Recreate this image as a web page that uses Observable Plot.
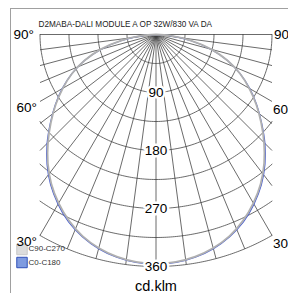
<!DOCTYPE html>
<html>
<head>
<meta charset="utf-8">
<script src="https://cdn.jsdelivr.net/npm/d3@7"></script>
<script src="https://cdn.jsdelivr.net/npm/@observablehq/plot@0.6"></script>
<style>
  html, body { margin: 0; padding: 0; background: #fff; }
  #chart svg { display: block; }
</style>
</head>
<body>
<div id="chart"></div>
<script>
// ---- data ----
const title = "D2MABA-DALI MODULE A OP 32W/830 VA DA";
const unitLabel = "cd.klm";
const gammaAngles = [0,5,10,15,20,25,30,35,40,45,50,55,60,65,70,75,80,85,90];
const c90c270 = [355,354,350,343,333,319,302,283,261,237,213,190,167,144,118,89,55,22,0];
const c0c180  = [356,355,351,344,334,321,304,285,263,239,214,191,168,144,118,88,54,21,0];
const seriesNames = ["C90-C270", "C0-C180"];
const ringValues = [45,90,135,180,225,270,315,360];
const ringLabels = [90,180,270,360];
const angleLabels = [90,60,30];
const spokeStep = 7.5;
const rMax = 360;

// ---- geometry helpers ----
const W = 288, H = 293, ML = 10, MT = 8;
const K = 232 / rMax;          // px per cd/klm
const CX = 155.5, CY = 34;     // pole position in px
const halfW = rMax * Math.sin(Math.PI / 6); // clipping half-width (data units)
const rad = d => d * Math.PI / 180;
const xDomain = [(ML - CX) / K, (W - CX) / K];
const yDomain = [(CY - H) / K, (CY - MT) / K];

// spokes
const spokes = [];
for (let a = -90; a <= 90 + 1e-9; a += spokeStep) {
  const s = Math.abs(Math.sin(rad(a)));
  const rEnd = s < 1e-9 ? rMax : Math.min(rMax, halfW / s);
  spokes.push({x1: 0, y1: 0, x2: rEnd * Math.sin(rad(a)), y2: -rEnd * Math.cos(rad(a))});
}
// rings
const rings = [];
for (const R of ringValues) {
  const tmax = R <= halfW ? 90 : Math.asin(halfW / R) * 180 / Math.PI;
  const n = 120;
  for (let i = 0; i <= n; i++) {
    const t = -tmax + 2 * tmax * i / n;
    rings.push({R, x: R * Math.sin(rad(t)), y: -R * Math.cos(rad(t))});
  }
}
// curves (mirrored: left half and right half)
function curve(vals) {
  const pts = [];
  for (let i = gammaAngles.length - 1; i >= 0; i--) pts.push({a: -gammaAngles[i], r: vals[i]});
  for (let i = 1; i < gammaAngles.length; i++) pts.push({a: gammaAngles[i], r: vals[i]});
  return pts.map(p => ({x: p.r * Math.sin(rad(p.a)), y: -p.r * Math.cos(rad(p.a))}));
}
const blueCurve = curve(c0c180);
const greyCurve = curve(c90c270);
const labelPos = a => {
  const s = Math.sin(rad(a));
  const r = Math.min(rMax, halfW / s);
  return {a, x: r * s, y: -r * Math.cos(rad(a))};
};
const sideLabels = angleLabels.map(labelPos);
const lab90 = sideLabels.filter(d => d.a === 90);
const lab60 = sideLabels.filter(d => d.a === 60);
const lab30 = sideLabels.filter(d => d.a === 30);
const labLow = sideLabels.filter(d => d.a !== 90);

const font = "Liberation Sans, Arial, sans-serif";
const chart = Plot.plot({
  width: W, height: H,
  marginLeft: ML, marginTop: MT, marginRight: 0, marginBottom: 0,
  style: {background: "#fff", fontFamily: font},
  x: {domain: xDomain, axis: null},
  y: {domain: yDomain, axis: null},
  marks: [
    Plot.ruleY([yDomain[1]], {stroke: "#a0a0a0", strokeWidth: 1}),
    Plot.ruleX([xDomain[0]], {stroke: "#a0a0a0", strokeWidth: 1}),
    Plot.link(spokes, {x1: "x1", y1: "y1", x2: "x2", y2: "y2", stroke: "#3a3a3a", strokeWidth: 0.75}),
    Plot.line(rings, {x: "x", y: "y", z: "R", stroke: "#3a3a3a", strokeWidth: 0.75}),
    Plot.line(blueCurve, {x: "x", y: "y", stroke: "#4a5fd0", strokeWidth: 1.2, curve: "catmull-rom"}),
    Plot.line(greyCurve, {x: "x", y: "y", stroke: "#b0b0b0", strokeWidth: 1.8, curve: "catmull-rom"}),
    Plot.text(ringLabels, {x: () => 0, y: d => -d, text: d => String(d), fill: "#000",
      stroke: "#fff", strokeWidth: 5, fontSize: 13.5, textAnchor: "middle", lineAnchor: "middle"}),
    // left angle labels
    Plot.text(lab90, {x: d => -d.x, y: "y", text: d => d.a + "°",
      fontSize: 13.5, textAnchor: "end", lineAnchor: "middle", dx: -6, fill: "#000"}),
    Plot.text(lab60, {x: d => -d.x, y: "y", text: d => d.a + "°",
      fontSize: 13.5, textAnchor: "end", lineAnchor: "top", dx: -3, dy: 1, fill: "#000"}),
    // right angle labels
    Plot.text(lab90, {x: "x", y: "y", text: d => String(d.a),
      fontSize: 13.5, textAnchor: "start", lineAnchor: "middle", dx: 2, fill: "#000"}),
    Plot.text(labLow, {x: "x", y: "y", text: d => String(d.a),
      fontSize: 13.5, textAnchor: "start", lineAnchor: "top", dx: 1, dy: 3, fill: "#000"}),
    // title
    Plot.text([title], {frameAnchor: "top-left", dx: 28, dy: 15.5, textAnchor: "start",
      lineAnchor: "middle", fontSize: 8.2, fill: "#222"}),
    // legend
    Plot.dot([seriesNames[0]], {frameAnchor: "bottom-left", dx: 11.5, dy: -44, symbol: "square",
      r: 5.9, fill: "#dcdcdc", stroke: "#c8c8c8", strokeWidth: 1}),
    Plot.dot([seriesNames[1]], {frameAnchor: "bottom-left", dx: 11.5, dy: -31, symbol: "square",
      r: 5.9, fill: "#7f9be0", stroke: "#2f4fb8", strokeWidth: 1}),
    Plot.text(lab30, {x: d => -d.x, y: "y", text: d => d.a + "°",
      fontSize: 13.5, textAnchor: "end", lineAnchor: "top", dx: -3, dy: 1, fill: "#000"}),
    Plot.text([seriesNames[0]], {frameAnchor: "bottom-left", dx: 18, dy: -45, textAnchor: "start",
      lineAnchor: "middle", fontSize: 8, fill: "#333"}),
    Plot.text([seriesNames[1]], {frameAnchor: "bottom-left", dx: 18, dy: -31.5, textAnchor: "start",
      lineAnchor: "middle", fontSize: 8, fill: "#333"}),
    // unit
    Plot.text([unitLabel], {x: () => 0, frameAnchor: "bottom", dy: -7, textAnchor: "middle",
      lineAnchor: "middle", fontSize: 14.5, fill: "#000"})
  ]
});
document.getElementById("chart").appendChild(chart);
</script>
</body>
</html>
